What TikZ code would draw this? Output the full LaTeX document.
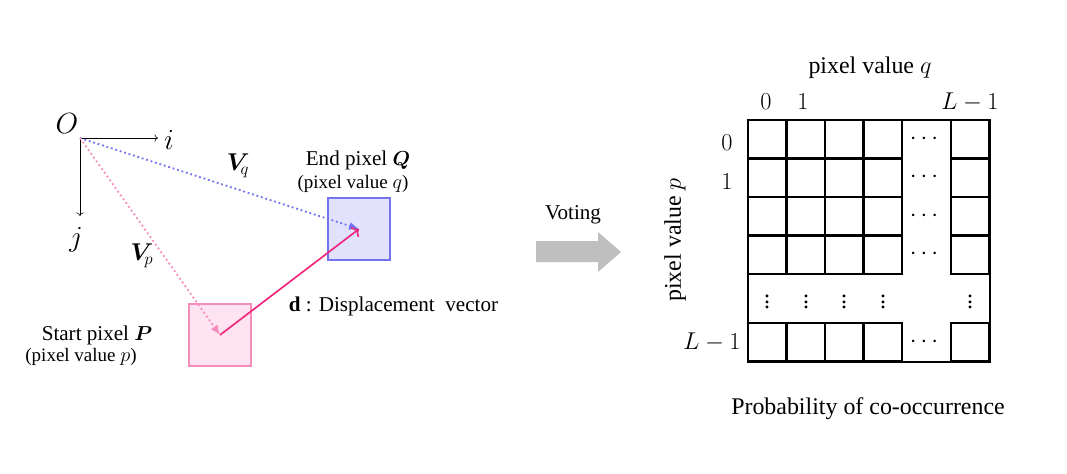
\documentclass[tikz,border=0pt]{standalone}
\usepackage{amsmath}
\usepackage{amssymb}
\usepackage{bm}
\usepackage{fontspec}
\setmainfont{Liberation Serif}
\usetikzlibrary{arrows.meta}
\definecolor{qblue}{RGB}{115,115,240}
\definecolor{qfill}{RGB}{226,226,252}
\definecolor{ppink}{RGB}{245,140,190}
\definecolor{pfill}{RGB}{253,228,240}
\definecolor{dmag}{RGB}{240,40,125}
\definecolor{votegray}{RGB}{191,191,191}

\begin{document}
\begin{tikzpicture}[x=0.025cm, y=-0.025cm, font=\fontsize{17}{20}\selectfont,
    pixbox/.style={draw, line width=1.2pt, minimum size=1.55cm, inner sep=0pt},
    cell/.style={draw, line width=1.6pt},
    mid/.style={font=\fontsize{15}{18}\selectfont},
    small/.style={font=\fontsize{13.5}{16}\selectfont},
    big/.style={font=\fontsize{22}{24}\selectfont},
    dots/.style={inner sep=0pt}]
    \useasboundingbox (0,0) rectangle (1067,474);

    % origin and axes
    \coordinate (O) at (80,138);
    \coordinate (iend) at (158,138);
    \coordinate (jend) at (80,216);
    \node[big] (olab) at (67,124) {$O$};
    \draw[->] (O) -- (iend);
    \draw[->] (O) -- (jend);
    \node[big] (ilab) at (169,140) {$i$};
    \node[big] (jlab) at (76,240) {$j$};

    % pixel boxes
    \node[pixbox, draw=qblue, fill=qfill] (Q) at (359,229) {};
    \node[pixbox, draw=ppink, fill=pfill] (P) at (220,335) {};

    % position vectors
    \draw[qblue, dotted, line width=1.3pt, -{Latex[length=7pt,width=6pt]}] (O) -- (Q.center);
    \draw[ppink, dotted, line width=1.3pt, -{Latex[length=7pt,width=6pt]}] (O) -- (P.center);
    \node (vq) at (238,166) {$\bm{V}_{\!q}$};
    \node (vp) at (142,256) {$\bm{V}_{\!p}$};

    % displacement vector
    \draw[dmag, line width=1.2pt, ->] (P.center) -- (Q.center);
    \node[mid, anchor=west] (dlab) at (284,306) {$\mathbf{d}$ : Displacement~~vector};

    % labels of the pixels
    \node[mid] (qname) at (358,160) {End pixel $\bm{Q}$};
    \node[small] (qval) at (353,184) {(pixel value $q$)};
    \node[mid] (pname) at (97,335) {Start pixel $\bm{P}$};
    \node[small] (pval) at (81,357) {(pixel value $p$)};

    % voting arrow
    \node[mid] (vote) at (573,215) {Voting};
    \fill[votegray] (536,241) -- (598,241) -- (598,232) -- (621,252)
        -- (598,272) -- (598,262) -- (536,262) -- cycle;

    % co-occurrence matrix
    \foreach \x in {748,786.5,825,863.5,951}
        \foreach \y in {120,158.5,197,235.5,323}
            \draw[cell] (\x,\y) rectangle ++(38.5,38.5);
    \draw[cell] (748,120) rectangle (990,362);
    \foreach \y in {139,177.5,216,254.5,342}
        \node[dots] at (926,\y) {$\cdots$};
    \foreach \x in {767,806,844,883,970}
        \node[dots] at (\x,298) {$\vdots$};

    % axis labels of the matrix
    \node (qaxis) at (870,68) {pixel value $q$};
    \node (c0) at (766,102) {$0$};
    \node (c1) at (803,102) {$1$};
    \node (cL) at (970,102) {$L-1$};
    \node (r0) at (727,143) {$0$};
    \node (r1) at (727,182) {$1$};
    \node (rL) at (712,342) {$L-1$};
    \node[rotate=90] (paxis) at (675,240) {pixel value $p$};
    \node (prob) at (868,409) {Probability of co-occurrence};
\end{tikzpicture}
\end{document}
